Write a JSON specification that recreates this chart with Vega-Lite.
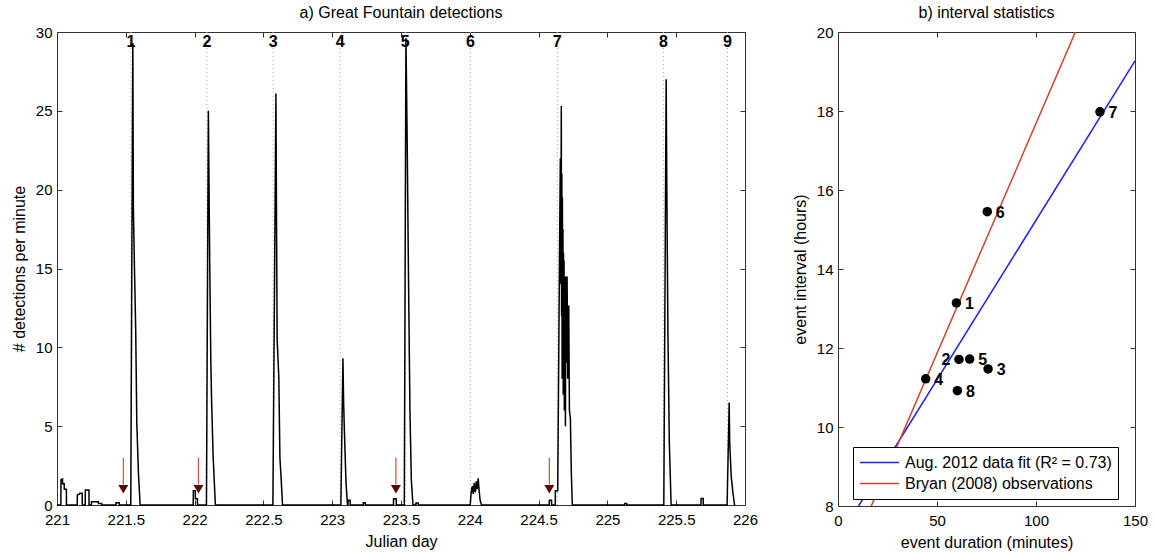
{
  "$schema": "https://vega.github.io/schema/vega-lite/v6.json",
  "padding": {"left": 10, "top": 4, "right": 5, "bottom": 5},
  "bounds": "flush",
  "spacing": 93,
  "datasets": {
    "detections": [
      {"day": 221.0, "count": 0}, {"day": 221.028, "count": 0}, {"day": 221.029, "count": 1.6}, {"day": 221.04, "count": 1.65},
      {"day": 221.041, "count": 1.35}, {"day": 221.052, "count": 1.35}, {"day": 221.053, "count": 1.0}, {"day": 221.068, "count": 1.0},
      {"day": 221.069, "count": 0}, {"day": 221.147, "count": 0}, {"day": 221.148, "count": 0.65}, {"day": 221.165, "count": 0.7},
      {"day": 221.166, "count": 0.75}, {"day": 221.183, "count": 0.75}, {"day": 221.184, "count": 0}, {"day": 221.205, "count": 0},
      {"day": 221.206, "count": 0.95}, {"day": 221.232, "count": 0.95}, {"day": 221.233, "count": 0}, {"day": 221.25, "count": 0},
      {"day": 221.251, "count": 0.2}, {"day": 221.3, "count": 0.2}, {"day": 221.301, "count": 0.1}, {"day": 221.325, "count": 0.1},
      {"day": 221.326, "count": 0}, {"day": 221.428, "count": 0}, {"day": 221.429, "count": 0.15}, {"day": 221.452, "count": 0.15},
      {"day": 221.453, "count": 0},
      {"day": 221.536, "count": 0}, {"day": 221.551, "count": 29.3}, {"day": 221.555, "count": 18.9}, {"day": 221.563, "count": 15},
      {"day": 221.572, "count": 11.1}, {"day": 221.58, "count": 5.2}, {"day": 221.592, "count": 2}, {"day": 221.604, "count": 0},
      {"day": 221.99, "count": 0}, {"day": 221.991, "count": 0.9}, {"day": 222.005, "count": 0.9}, {"day": 222.006, "count": 0.4},
      {"day": 222.02, "count": 0.4}, {"day": 222.021, "count": 0},
      {"day": 222.086, "count": 0}, {"day": 222.1, "count": 25.0}, {"day": 222.11, "count": 15.3}, {"day": 222.118, "count": 9},
      {"day": 222.123, "count": 6.8}, {"day": 222.135, "count": 3}, {"day": 222.151, "count": 0},
      {"day": 222.569, "count": 0}, {"day": 222.591, "count": 26.1}, {"day": 222.595, "count": 18.5}, {"day": 222.6, "count": 10.5},
      {"day": 222.612, "count": 8.1}, {"day": 222.62, "count": 3}, {"day": 222.63, "count": 1.5}, {"day": 222.639, "count": 0},
      {"day": 223.063, "count": 0}, {"day": 223.078, "count": 9.3}, {"day": 223.083, "count": 6.5}, {"day": 223.088, "count": 4.9},
      {"day": 223.1, "count": 1.5}, {"day": 223.111, "count": 0}, {"day": 223.115, "count": 0}, {"day": 223.116, "count": 0.3},
      {"day": 223.13, "count": 0.3}, {"day": 223.131, "count": 0}, {"day": 223.225, "count": 0}, {"day": 223.226, "count": 0.15},
      {"day": 223.24, "count": 0.15}, {"day": 223.241, "count": 0},
      {"day": 223.445, "count": 0}, {"day": 223.446, "count": 0.4}, {"day": 223.465, "count": 0.4}, {"day": 223.466, "count": 0},
      {"day": 223.524, "count": 0}, {"day": 223.536, "count": 29.6}, {"day": 223.545, "count": 23}, {"day": 223.554, "count": 14.9},
      {"day": 223.565, "count": 6}, {"day": 223.575, "count": 1.6}, {"day": 223.587, "count": 0},
      {"day": 223.608, "count": 0}, {"day": 223.609, "count": 0.12}, {"day": 223.625, "count": 0.12}, {"day": 223.626, "count": 0},
      {"day": 224.003, "count": 0}, {"day": 224.01, "count": 0.8}, {"day": 224.018, "count": 1.2}, {"day": 224.025, "count": 0.7},
      {"day": 224.032, "count": 1.4}, {"day": 224.04, "count": 0.8}, {"day": 224.047, "count": 1.5}, {"day": 224.054, "count": 1.0},
      {"day": 224.061, "count": 1.7}, {"day": 224.068, "count": 0.9}, {"day": 224.075, "count": 0.3}, {"day": 224.085, "count": 0},
      {"day": 224.577, "count": 0}, {"day": 224.578, "count": 0.3}, {"day": 224.594, "count": 0.3}, {"day": 224.595, "count": 0},
      {"day": 224.621, "count": 0}, {"day": 224.622, "count": 0.9}, {"day": 224.639, "count": 0.9}, {"day": 224.653, "count": 17},
      {"day": 224.658, "count": 22}, {"day": 224.662, "count": 14}, {"day": 224.665, "count": 25.3}, {"day": 224.667, "count": 12},
      {"day": 224.669, "count": 21}, {"day": 224.671, "count": 8}, {"day": 224.673, "count": 19.5}, {"day": 224.675, "count": 10},
      {"day": 224.677, "count": 17.5}, {"day": 224.679, "count": 7}, {"day": 224.681, "count": 16}, {"day": 224.683, "count": 9},
      {"day": 224.685, "count": 15.5}, {"day": 224.687, "count": 6}, {"day": 224.689, "count": 14.5}, {"day": 224.691, "count": 8},
      {"day": 224.693, "count": 13}, {"day": 224.695, "count": 5}, {"day": 224.698, "count": 14.5}, {"day": 224.701, "count": 9},
      {"day": 224.704, "count": 13.5}, {"day": 224.707, "count": 14.5}, {"day": 224.712, "count": 8}, {"day": 224.716, "count": 12.6},
      {"day": 224.719, "count": 12.6}, {"day": 224.724, "count": 6}, {"day": 224.731, "count": 5.5}, {"day": 224.738, "count": 2},
      {"day": 224.745, "count": 0},
      {"day": 225.125, "count": 0}, {"day": 225.126, "count": 0.1}, {"day": 225.14, "count": 0.1}, {"day": 225.141, "count": 0},
      {"day": 225.41, "count": 0}, {"day": 225.427, "count": 27.0}, {"day": 225.432, "count": 19.8}, {"day": 225.44, "count": 10.9},
      {"day": 225.45, "count": 4}, {"day": 225.463, "count": 0},
      {"day": 225.68, "count": 0}, {"day": 225.681, "count": 0.42}, {"day": 225.696, "count": 0.42}, {"day": 225.697, "count": 0},
      {"day": 225.87, "count": 0}, {"day": 225.885, "count": 6.5}, {"day": 225.889, "count": 3.9}, {"day": 225.9, "count": 1.8},
      {"day": 225.912, "count": 0.8}, {"day": 225.924, "count": 0}, {"day": 225.93, "count": 0}
    ],
    "events": [
      {"day": 221.538, "label": "1"}, {"day": 222.089, "label": "2"}, {"day": 222.571, "label": "3"},
      {"day": 223.058, "label": "4"}, {"day": 223.531, "label": "5"}, {"day": 224.004, "label": "6"},
      {"day": 224.636, "label": "7"}, {"day": 225.407, "label": "8"}, {"day": 225.873, "label": "9"}
    ],
    "arrows": [
      {"day": 221.482}, {"day": 222.028}, {"day": 223.463}, {"day": 224.578}
    ],
    "intervals": [
      {"label": "1", "duration": 59.8, "interval": 13.14},
      {"label": "2", "duration": 61.1, "interval": 11.71},
      {"label": "3", "duration": 75.8, "interval": 11.47},
      {"label": "4", "duration": 44.3, "interval": 11.22},
      {"label": "5", "duration": 66.5, "interval": 11.72},
      {"label": "6", "duration": 75.4, "interval": 15.45},
      {"label": "7", "duration": 132.3, "interval": 17.98},
      {"label": "8", "duration": 60.3, "interval": 10.92}
    ],
    "fits": [
      {"series": "Aug. 2012 data fit (R² = 0.73)", "duration": 10.4, "interval": 8},
      {"series": "Aug. 2012 data fit (R² = 0.73)", "duration": 150, "interval": 19.27},
      {"series": "Bryan (2008) observations", "duration": 16.8, "interval": 8},
      {"series": "Bryan (2008) observations", "duration": 119.9, "interval": 20}
    ]
  },
  "hconcat": [
    {
      "width": 688,
      "height": 473,
      "title": {"text": "a) Great Fountain detections"},
      "layer": [
        {
          "data": {"name": "events"},
          "mark": {"type": "rule", "color": "#9aa6c0", "strokeDash": [1, 3], "strokeWidth": 1},
          "encoding": {
            "x": {"field": "day", "type": "quantitative", "scale": {"domain": [221, 226], "nice": false, "zero": false},
                  "axis": {"orient": "top", "labels": false, "title": null, "values": [221, 221.5, 222, 222.5, 223, 223.5, 224, 224.5, 225, 225.5, 226]}}
          }
        },
        {
          "data": {"name": "detections"},
          "mark": {"type": "line", "color": "black", "strokeWidth": 1.5},
          "encoding": {
            "x": {"field": "day", "type": "quantitative", "scale": {"domain": [221, 226], "nice": false, "zero": false},
                  "axis": {"orient": "bottom", "title": "Julian day", "format": ".1~f", "labelPadding": 12, "titlePadding": 6,
                           "values": [221, 221.5, 222, 222.5, 223, 223.5, 224, 224.5, 225, 225.5, 226]}},
            "y": {"field": "count", "type": "quantitative", "scale": {"domain": [0, 30], "nice": false},
                  "axis": {"orient": "left", "title": "# detections per minute", "values": [0, 5, 10, 15, 20, 25, 30],
                           "encode": {"labels": {"update": {"dy": {"signal": "datum.value === 0 ? -3 : 0"}}}}}}
          }
        },
        {
          "data": {"name": "events"},
          "mark": {"type": "text", "fontWeight": "bold", "fontSize": 16, "baseline": "top", "dy": 2, "color": "black"},
          "encoding": {
            "x": {"field": "day", "type": "quantitative", "axis": null},
            "y": {"datum": 30, "type": "quantitative", "axis": null},
            "text": {"field": "label"}
          }
        },
        {
          "data": {"name": "arrows"},
          "mark": {"type": "rule", "color": "#c8524a", "strokeWidth": 1.2},
          "encoding": {
            "x": {"field": "day", "type": "quantitative", "axis": null},
            "y": {"datum": 3.0, "type": "quantitative", "axis": {"orient": "right", "labels": false, "title": null, "values": [0, 5, 10, 15, 20, 25, 30]}},
            "y2": {"datum": 1.3}
          }
        },
        {
          "data": {"name": "arrows"},
          "mark": {"type": "point", "shape": "triangle-down", "filled": true, "color": "#5a0a0a", "size": 100, "opacity": 1, "strokeWidth": 0},
          "encoding": {
            "x": {"field": "day", "type": "quantitative", "axis": null},
            "y": {"datum": 1.0, "type": "quantitative", "axis": null}
          }
        }
      ],
      "resolve": {"axis": {"x": "independent", "y": "independent"}}
    },
    {
      "width": 297,
      "height": 474,
      "title": {"text": "b) interval statistics"},
      "layer": [
        {
          "data": {"name": "fits"},
          "mark": {"type": "line", "strokeWidth": 1.5, "clip": true},
          "encoding": {
            "x": {"field": "duration", "type": "quantitative", "scale": {"domain": [0, 150], "nice": false},
                  "axis": {"orient": "top", "labels": false, "title": null, "values": [0, 50, 100, 150]}},
            "y": {"field": "interval", "type": "quantitative", "scale": {"domain": [8, 20], "nice": false, "zero": false},
                  "axis": {"orient": "right", "labels": false, "title": null, "values": [8, 10, 12, 14, 16, 18, 20]}},
            "color": {"field": "series", "type": "nominal",
                      "scale": {"domain": ["Aug. 2012 data fit (R² = 0.73)", "Bryan (2008) observations"], "range": ["#1f1fff", "#d6402a"]},
                      "legend": {"orient": "none", "legendX": 796, "legendY": 415, "title": null, "symbolType": "stroke",
                                 "symbolSize": 1521, "symbolStrokeWidth": 1.5, "labelFontSize": 16, "labelFont": "Liberation Sans",
                                 "labelColor": "black", "strokeColor": "black", "fillColor": "white", "padding": 6,
                                 "clipHeight": 19, "rowPadding": 2, "labelOffset": 5, "labelLimit": 400, "cornerRadius": 0}}
          }
        },
        {
          "data": {"name": "intervals"},
          "mark": {"type": "circle", "size": 90, "color": "black", "opacity": 1},
          "encoding": {
            "x": {"field": "duration", "type": "quantitative", "scale": {"domain": [0, 150], "nice": false},
                  "axis": {"orient": "bottom", "title": "event duration (minutes)", "labelPadding": 12, "titlePadding": 6, "values": [0, 50, 100, 150]}},
            "y": {"field": "interval", "type": "quantitative", "scale": {"domain": [8, 20], "nice": false, "zero": false},
                  "axis": {"orient": "left", "title": "event interval (hours)", "values": [8, 10, 12, 14, 16, 18, 20],
                           "encode": {"labels": {"update": {"dy": {"signal": "datum.value === 8 ? -3 : 0"}}}}}}
          }
        },
        {
          "data": {"name": "intervals"},
          "transform": [{"filter": "datum.label != '2'"}],
          "mark": {"type": "text", "fontWeight": "bold", "fontSize": 16, "align": "center", "baseline": "middle", "dx": 13, "dy": 1, "color": "black"},
          "encoding": {
            "x": {"field": "duration", "type": "quantitative", "axis": null},
            "y": {"field": "interval", "type": "quantitative", "axis": null},
            "text": {"field": "label"}
          }
        },
        {
          "data": {"name": "intervals"},
          "transform": [{"filter": "datum.label == '2'"}],
          "mark": {"type": "text", "fontWeight": "bold", "fontSize": 16, "align": "center", "baseline": "middle", "dx": -13, "dy": 1, "color": "black"},
          "encoding": {
            "x": {"field": "duration", "type": "quantitative", "axis": null},
            "y": {"field": "interval", "type": "quantitative", "axis": null},
            "text": {"field": "label"}
          }
        }
      ],
      "resolve": {"axis": {"x": "independent", "y": "independent"}}
    }
  ],
  "config": {
    "font": "Liberation Sans",
    "view": {"stroke": "#333", "strokeWidth": 1},
    "axis": {"domain": false, "grid": false, "tickSize": -5, "tickColor": "#333", "tickWidth": 1, "labelPadding": 10,
             "labelFontSize": 15, "labelColor": "black", "labelFont": "Liberation Sans", "titleFontSize": 16,
             "titleFontWeight": "normal", "titleColor": "black", "titleFont": "Liberation Sans", "labelFlush": false,
             "labelOverlap": false, "titlePadding": 8},
    "title": {"fontSize": 16, "fontWeight": "normal", "font": "Liberation Sans", "color": "black"},
    "text": {"font": "Liberation Sans"}
  }
}
